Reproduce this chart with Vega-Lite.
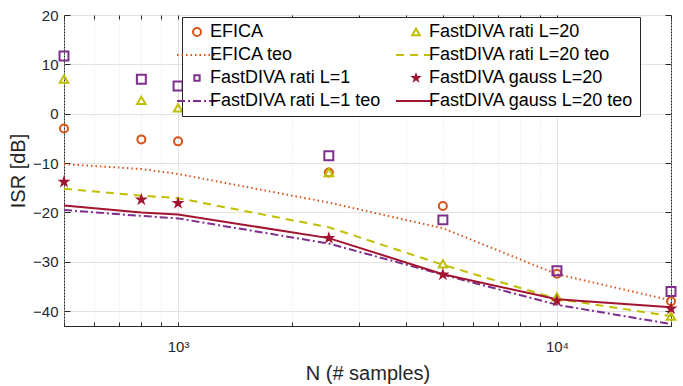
{
  "$schema": "https://vega.github.io/schema/vega-lite/v6.json",
  "autosize": {"type": "none"},
  "width": 607,
  "height": 311,
  "padding": {"left": 64, "top": 15, "right": 12, "bottom": 60},
  "background": "white",
  "config": {
    "view": {"stroke": "#262626", "strokeWidth": 1},
    "font": "Liberation Sans",
    "axis": {"labelFont": "Liberation Sans", "titleFont": "Liberation Sans", "labelColor": "#262626", "titleColor": "#262626", "titleFontWeight": "normal", "domainColor": "#262626", "tickColor": "#262626"},
    "legend": {"labelFont": "Liberation Sans"}
  },
  "data": {"values": [
    {"N": 500, "ISR": -3.0, "series": "EFICA"},
    {"N": 800, "ISR": -5.2, "series": "EFICA"},
    {"N": 1000, "ISR": -5.6, "series": "EFICA"},
    {"N": 2500, "ISR": -11.9, "series": "EFICA"},
    {"N": 5000, "ISR": -18.7, "series": "EFICA"},
    {"N": 10000, "ISR": -32.4, "series": "EFICA"},
    {"N": 20000, "ISR": -38.0, "series": "EFICA"},
    {"N": 500, "ISR": -10.2, "series": "EFICA teo"},
    {"N": 800, "ISR": -11.2, "series": "EFICA teo"},
    {"N": 1000, "ISR": -12.2, "series": "EFICA teo"},
    {"N": 2500, "ISR": -18.0, "series": "EFICA teo"},
    {"N": 5000, "ISR": -23.2, "series": "EFICA teo"},
    {"N": 10000, "ISR": -32.5, "series": "EFICA teo"},
    {"N": 20000, "ISR": -37.8, "series": "EFICA teo"},
    {"N": 500, "ISR": 11.7, "series": "FastDIVA rati L=1"},
    {"N": 800, "ISR": 7.0, "series": "FastDIVA rati L=1"},
    {"N": 1000, "ISR": 5.6, "series": "FastDIVA rati L=1"},
    {"N": 2500, "ISR": -8.5, "series": "FastDIVA rati L=1"},
    {"N": 5000, "ISR": -21.5, "series": "FastDIVA rati L=1"},
    {"N": 10000, "ISR": -31.8, "series": "FastDIVA rati L=1"},
    {"N": 20000, "ISR": -36.0, "series": "FastDIVA rati L=1"},
    {"N": 500, "ISR": -19.5, "series": "FastDIVA rati L=1 teo"},
    {"N": 800, "ISR": -20.7, "series": "FastDIVA rati L=1 teo"},
    {"N": 1000, "ISR": -21.2, "series": "FastDIVA rati L=1 teo"},
    {"N": 2500, "ISR": -26.3, "series": "FastDIVA rati L=1 teo"},
    {"N": 5000, "ISR": -32.6, "series": "FastDIVA rati L=1 teo"},
    {"N": 10000, "ISR": -38.7, "series": "FastDIVA rati L=1 teo"},
    {"N": 20000, "ISR": -42.6, "series": "FastDIVA rati L=1 teo"},
    {"N": 500, "ISR": 7.0, "series": "FastDIVA rati L=20"},
    {"N": 800, "ISR": 2.7, "series": "FastDIVA rati L=20"},
    {"N": 1000, "ISR": 1.2, "series": "FastDIVA rati L=20"},
    {"N": 2500, "ISR": -11.9, "series": "FastDIVA rati L=20"},
    {"N": 5000, "ISR": -30.4, "series": "FastDIVA rati L=20"},
    {"N": 10000, "ISR": -37.1, "series": "FastDIVA rati L=20"},
    {"N": 20000, "ISR": -41.0, "series": "FastDIVA rati L=20"},
    {"N": 500, "ISR": -15.2, "series": "FastDIVA rati L=20 teo"},
    {"N": 800, "ISR": -16.6, "series": "FastDIVA rati L=20 teo"},
    {"N": 1000, "ISR": -17.1, "series": "FastDIVA rati L=20 teo"},
    {"N": 2500, "ISR": -23.0, "series": "FastDIVA rati L=20 teo"},
    {"N": 5000, "ISR": -30.6, "series": "FastDIVA rati L=20 teo"},
    {"N": 10000, "ISR": -37.5, "series": "FastDIVA rati L=20 teo"},
    {"N": 20000, "ISR": -41.0, "series": "FastDIVA rati L=20 teo"},
    {"N": 500, "ISR": -13.8, "series": "FastDIVA gauss L=20"},
    {"N": 800, "ISR": -17.4, "series": "FastDIVA gauss L=20"},
    {"N": 1000, "ISR": -18.1, "series": "FastDIVA gauss L=20"},
    {"N": 2500, "ISR": -25.2, "series": "FastDIVA gauss L=20"},
    {"N": 5000, "ISR": -32.6, "series": "FastDIVA gauss L=20"},
    {"N": 10000, "ISR": -37.9, "series": "FastDIVA gauss L=20"},
    {"N": 20000, "ISR": -39.5, "series": "FastDIVA gauss L=20"},
    {"N": 500, "ISR": -18.6, "series": "FastDIVA gauss L=20 teo"},
    {"N": 800, "ISR": -20.0, "series": "FastDIVA gauss L=20 teo"},
    {"N": 1000, "ISR": -20.4, "series": "FastDIVA gauss L=20 teo"},
    {"N": 2500, "ISR": -25.2, "series": "FastDIVA gauss L=20 teo"},
    {"N": 5000, "ISR": -32.5, "series": "FastDIVA gauss L=20 teo"},
    {"N": 10000, "ISR": -37.6, "series": "FastDIVA gauss L=20 teo"},
    {"N": 20000, "ISR": -39.2, "series": "FastDIVA gauss L=20 teo"}
  ]},
  "resolve": {"axis": {"x": "independent", "y": "independent"}},
  "layer": [
    {
      "encoding": {
        "x": {"field": "N", "type": "quantitative",
          "scale": {"type": "log", "domain": [500, 20000], "nice": false},
          "axis": {"title": "N (# samples)", "titleFontSize": 20, "titlePadding": 9,
            "values": [500, 600, 700, 800, 900, 1000, 2000, 3000, 4000, 5000, 6000, 7000, 8000, 9000, 10000, 20000],
            "labelExpr": "datum.value == 1000 ? '10³' : datum.value == 10000 ? '10⁴' : ''",
            "labelFontSize": 15, "labelOverlap": false, "labelFlush": false, "labelPadding": 17,
            "grid": true, "gridColor": "#e3e3e3",
            "gridDash": {"condition": {"test": "datum.value == 1000 || datum.value == 10000", "value": []}, "value": [1, 2]},
            "tickSize": -4, "domain": false}},
        "y": {"field": "ISR", "type": "quantitative",
          "scale": {"domain": [-43, 20], "nice": false, "zero": false},
          "axis": {"title": "ISR [dB]", "titleFontSize": 20, "titlePadding": 4,
            "values": [-40, -30, -20, -10, 0, 10, 20],
            "labelFontSize": 15, "labelPadding": 12,
            "grid": true, "gridColor": "#e3e3e3", "tickSize": -6, "domain": false}},
        "color": {"field": "series", "type": "nominal",
          "scale": {
            "domain": ["EFICA", "EFICA teo", "FastDIVA rati L=1", "FastDIVA rati L=1 teo", "FastDIVA rati L=20", "FastDIVA rati L=20 teo", "FastDIVA gauss L=20", "FastDIVA gauss L=20 teo"],
            "range": ["#D95319", "#D95319", "#7E2F8E", "#7E2F8E", "#BFBF00", "#BFBF00", "#A2142F", "#A2142F"]},
          "legend": {
            "title": null, "orient": "none", "legendX": 118, "legendY": 2, "direction": "vertical",
            "columns": 2, "columnPadding": 10, "rowPadding": 5,
            "labelFontSize": 18, "labelColor": "#000000", "labelLimit": 400,
            "symbolSize": 1600, "symbolStrokeWidth": 2, "labelOffset": 4,
            "strokeColor": "#262626", "fillColor": "white", "padding": 6,
            "encode": {
              "legend": {"update": {"fill": {"value": "white"}, "stroke": {"value": "#262626"}, "strokeWidth": {"value": 1}}},
              "symbols": {"update": {
                "shape": {"signal": "datum.value == 'EFICA' ? 'circle' : datum.value == 'FastDIVA rati L=20' ? 'triangle-up' : datum.value == 'FastDIVA rati L=1' ? 'square' : datum.value == 'FastDIVA gauss L=20' ? 'M0,-1L0.2245,-0.309L0.951,-0.309L0.363,0.118L0.588,0.809L0,0.382L-0.588,0.809L-0.363,0.118L-0.951,-0.309L-0.2245,-0.309Z' : 'stroke'"},
                "size": {"signal": "datum.value == 'EFICA' ? 64 : datum.value == 'FastDIVA rati L=20' ? 60 : datum.value == 'FastDIVA rati L=1' ? 28 : datum.value == 'FastDIVA gauss L=20' ? 150 : 1600"},
                "strokeDash": {"signal": "datum.value == 'EFICA teo' ? [1.5, 3] : datum.value == 'FastDIVA rati L=20 teo' ? [8, 6] : datum.value == 'FastDIVA rati L=1 teo' ? [8, 3, 2, 3] : []"},
                "fill": {"signal": "scale('color', datum.value)"},
                "fillOpacity": {"signal": "datum.value == 'FastDIVA gauss L=20' ? 1 : 0"},
                "stroke": {"signal": "scale('color', datum.value)"},
                "strokeWidth": {"signal": "datum.value == 'FastDIVA gauss L=20' ? 0 : 2"},
                "opacity": {"value": 1}
              }}
            }
          }}
      },
      "layer": [
        {
          "transform": [{"filter": "datum.series == 'EFICA teo'"}],
          "mark": {"type": "line", "strokeWidth": 2, "strokeDash": [1.5, 3]}
        },
        {
          "transform": [{"filter": "datum.series == 'FastDIVA rati L=20 teo'"}],
          "mark": {"type": "line", "strokeWidth": 2, "strokeDash": [8, 6]}
        },
        {
          "transform": [{"filter": "datum.series == 'FastDIVA rati L=1 teo'"}],
          "mark": {"type": "line", "strokeWidth": 2, "strokeDash": [8, 3, 2, 3]}
        },
        {
          "transform": [{"filter": "datum.series == 'FastDIVA gauss L=20 teo'"}],
          "mark": {"type": "line", "strokeWidth": 2}
        },
        {
          "transform": [{"filter": "datum.series == 'EFICA' || datum.series == 'FastDIVA rati L=20' || datum.series == 'FastDIVA rati L=1'"}],
          "mark": {"type": "point", "filled": false, "strokeWidth": 2, "opacity": 1},
          "encoding": {
            "shape": {"field": "series", "type": "nominal", "legend": null,
              "scale": {"domain": ["EFICA", "FastDIVA rati L=20", "FastDIVA rati L=1"], "range": ["circle", "triangle-up", "square"]}},
            "size": {"field": "series", "type": "nominal", "legend": null,
              "scale": {"domain": ["EFICA", "FastDIVA rati L=20", "FastDIVA rati L=1"], "range": [64, 80, 28]}}
          }
        }
      ]
    },
    {
      "transform": [{"filter": "datum.series == 'FastDIVA gauss L=20'"}],
      "mark": {"type": "point", "filled": true, "shape": "M0,-1L0.2245,-0.309L0.951,-0.309L0.363,0.118L0.588,0.809L0,0.382L-0.588,0.809L-0.363,0.118L-0.951,-0.309L-0.2245,-0.309Z", "size": 190, "opacity": 1},
      "encoding": {
        "x": {"field": "N", "type": "quantitative",
          "axis": {"orient": "top", "title": null, "labels": false, "grid": false, "domain": false,
            "values": [500, 600, 700, 800, 900, 1000, 2000, 3000, 4000, 5000, 6000, 7000, 8000, 9000, 10000, 20000],
            "tickSize": -4}},
        "y": {"field": "ISR", "type": "quantitative",
          "axis": {"orient": "right", "title": null, "labels": false, "grid": false, "domain": false,
            "values": [-40, -30, -20, -10, 0, 10, 20], "tickSize": -6}},
        "color": {"field": "series", "type": "nominal"}
      }
    }
  ]
}
